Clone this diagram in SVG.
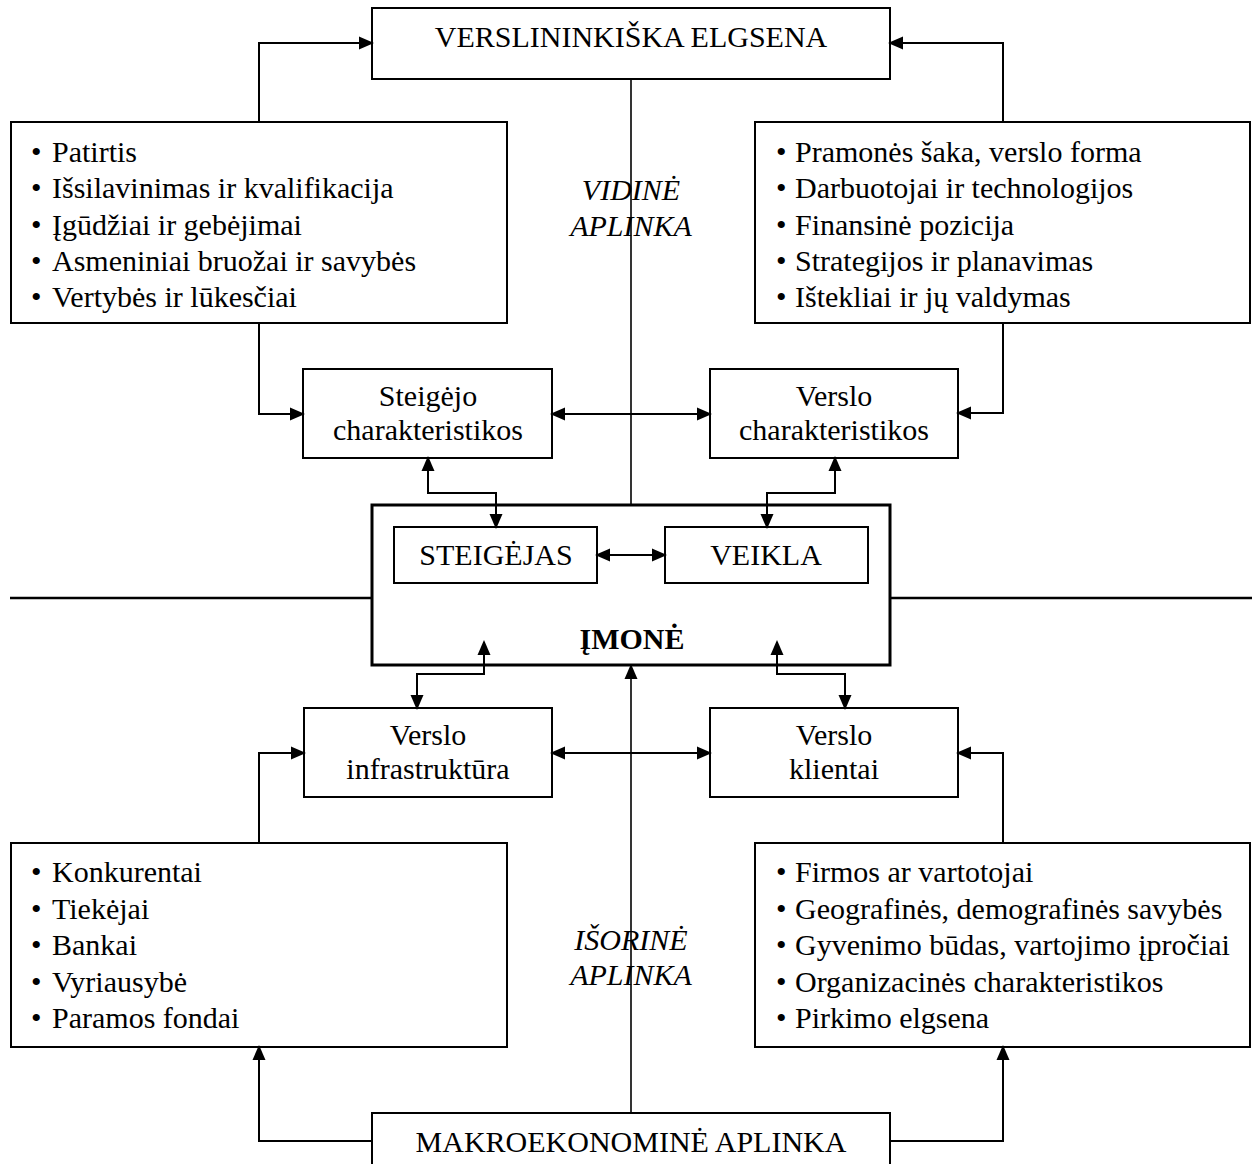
<svg xmlns="http://www.w3.org/2000/svg" width="1252" height="1164" viewBox="0 0 1252 1164">
<defs>
<marker id="ah" markerUnits="userSpaceOnUse" markerWidth="16" markerHeight="14" refX="13" refY="6.5" orient="auto-start-reverse" overflow="visible"><path d="M0,0 L15,6.5 L0,13 z" fill="#000"/></marker>
<style>
.box{fill:#fff;stroke:#000;stroke-width:2}
.main{fill:#fff;stroke:#000;stroke-width:3}
.t{font-family:"Liberation Serif","Times New Roman",serif;font-size:30px;fill:#000}
.c{text-anchor:middle}
.i{font-style:italic}
.b{font-weight:bold}
.ln{fill:none;stroke:#000;stroke-width:2}
.thin{fill:none;stroke:#000;stroke-width:1.6}
.hz{fill:none;stroke:#000;stroke-width:2.6}
.a{marker-end:url(#ah)}
.ab{marker-start:url(#ah);marker-end:url(#ah)}
</style>
</defs>
<rect width="1252" height="1164" fill="#fff"/>

<g id="verslininkiska">
<rect class="box" x="372" y="8" width="518" height="71"/>
<text class="t c" x="631" y="47">VERSLININKIŠKA ELGSENA</text>
</g>

<g id="steigejo-list">
<rect class="box" x="11" y="122" width="496" height="201"/>
<text class="t" x="31" y="162">•<tspan x="52">Patirtis</tspan></text>
<text class="t" x="31" y="198">•<tspan x="52">Išsilavinimas ir kvalifikacija</tspan></text>
<text class="t" x="31" y="234.5">•<tspan x="52">Įgūdžiai ir gebėjimai</tspan></text>
<text class="t" x="31" y="271">•<tspan x="52">Asmeniniai bruožai ir savybės</tspan></text>
<text class="t" x="31" y="307">•<tspan x="52">Vertybės ir lūkesčiai</tspan></text>
</g>

<g id="verslo-list">
<rect class="box" x="755" y="122" width="495" height="201"/>
<text class="t" x="776" y="162">•<tspan x="795">Pramonės šaka, verslo forma</tspan></text>
<text class="t" x="776" y="198">•<tspan x="795">Darbuotojai ir technologijos</tspan></text>
<text class="t" x="776" y="234.5">•<tspan x="795">Finansinė pozicija</tspan></text>
<text class="t" x="776" y="271">•<tspan x="795">Strategijos ir planavimas</tspan></text>
<text class="t" x="776" y="307">•<tspan x="795">Ištekliai ir jų valdymas</tspan></text>
</g>

<g id="vidine">
<text class="t c i" x="631" y="200">VIDINĖ</text>
<text class="t c i" x="631" y="236">APLINKA</text>
</g>

<g id="steigejo-char">
<rect class="box" x="303" y="369" width="249" height="89"/>
<text class="t c" x="428" y="406">Steigėjo</text>
<text class="t c" x="428" y="440">charakteristikos</text>
</g>

<g id="verslo-char">
<rect class="box" x="710" y="369" width="248" height="89"/>
<text class="t c" x="834" y="406">Verslo</text>
<text class="t c" x="834" y="440">charakteristikos</text>
</g>

<g id="imone">
<rect class="main" x="372" y="505" width="518" height="160"/>
<text class="t c b" x="632" y="649">ĮMONĖ</text>
</g>

<g id="steigejas">
<rect class="box" x="394" y="527" width="203" height="56"/>
<text class="t c" x="496" y="565">STEIGĖJAS</text>
</g>

<g id="veikla">
<rect class="box" x="665" y="527" width="203" height="56"/>
<text class="t c" x="766" y="565">VEIKLA</text>
</g>

<g id="verslo-infra">
<rect class="box" x="304" y="708" width="248" height="89"/>
<text class="t c" x="428" y="745">Verslo</text>
<text class="t c" x="428" y="779">infrastruktūra</text>
</g>

<g id="verslo-klientai">
<rect class="box" x="710" y="708" width="248" height="89"/>
<text class="t c" x="834" y="745">Verslo</text>
<text class="t c" x="834" y="779">klientai</text>
</g>

<g id="isorine">
<text class="t c i" x="631" y="950">IŠORINĖ</text>
<text class="t c i" x="631" y="985">APLINKA</text>
</g>

<g id="infra-list">
<rect class="box" x="11" y="843" width="496" height="204"/>
<text class="t" x="31" y="882">•<tspan x="52">Konkurentai</tspan></text>
<text class="t" x="31" y="918.5">•<tspan x="52">Tiekėjai</tspan></text>
<text class="t" x="31" y="955">•<tspan x="52">Bankai</tspan></text>
<text class="t" x="31" y="991.5">•<tspan x="52">Vyriausybė</tspan></text>
<text class="t" x="31" y="1028">•<tspan x="52">Paramos fondai</tspan></text>
</g>

<g id="klientai-list">
<rect class="box" x="755" y="843" width="495" height="204"/>
<text class="t" x="776" y="882">•<tspan x="795">Firmos ar vartotojai</tspan></text>
<text class="t" x="776" y="918.5">•<tspan x="795">Geografinės, demografinės savybės</tspan></text>
<text class="t" x="776" y="955">•<tspan x="795">Gyvenimo būdas, vartojimo įpročiai</tspan></text>
<text class="t" x="776" y="991.5">•<tspan x="795">Organizacinės charakteristikos</tspan></text>
<text class="t" x="776" y="1028">•<tspan x="795">Pirkimo elgsena</tspan></text>
</g>

<g id="makro">
<rect class="box" x="372" y="1113" width="518" height="70"/>
<text class="t c" x="631" y="1152">MAKROEKONOMINĖ APLINKA</text>
</g>

<g id="connectors">
<path class="hz" d="M10,598 H372 M890,598 H1252"/>
<path class="thin" d="M631,79 V505"/>
<path class="ln a" d="M259,122 V43 H372"/>
<path class="ln a" d="M1003,122 V43 H890"/>
<path class="ln a" d="M259,323 V414 H303"/>
<path class="ln a" d="M1003,323 V413 H958"/>
<path class="ln ab" d="M552,414 H710"/>
<path class="ln ab" d="M428,458 V493 H496 V527"/>
<path class="ln ab" d="M835,458 V493 H767 V527"/>
<path class="ln ab" d="M597,555 H665"/>
<path class="ln ab" d="M484,642 V674 H417 V708"/>
<path class="ln ab" d="M777,642 V674 H845 V708"/>
<path class="ln ab" d="M552,753 H710"/>
<path class="ln a" d="M259,843 V753 H304"/>
<path class="ln a" d="M1003,843 V753 H958"/>
<path class="thin a" d="M631,1113 V666"/>
<path class="ln a" d="M372,1141 H259 V1047"/>
<path class="ln a" d="M890,1141 H1003 V1047"/>
</g>
</svg>
